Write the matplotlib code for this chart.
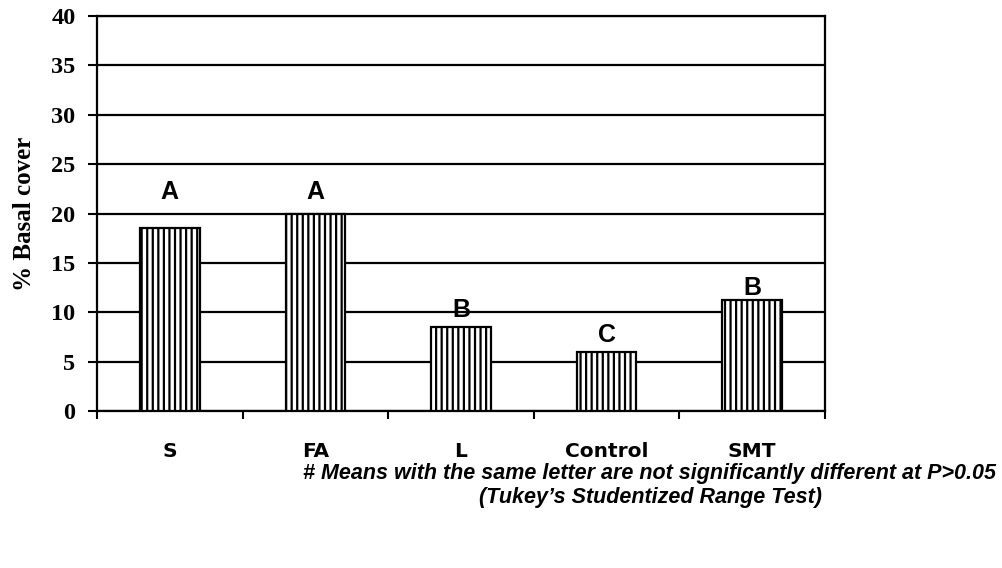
import matplotlib
matplotlib.use("Agg")
import matplotlib.pyplot as plt

# data
treatments = ["S", "FA", "L", "Control", "SMT"]
basal_cover = [18.5, 20.0, 8.5, 6.0, 11.2]
letters = ["A", "A", "B", "C", "B"]
letter_y = [22.2, 22.2, 10.2, 7.7, 12.5]
y_ticks = [0, 5, 10, 15, 20, 25, 30, 35, 40]

plt.rcParams["hatch.linewidth"] = 1.6
plt.rcParams["hatch.color"] = "black"

fig = plt.figure(figsize=(10.03, 5.68), dpi=100)
ax = fig.add_axes([0.0967, 0.2764, 0.7258, 0.6954])

x = list(range(len(treatments)))
ax.bar(x, basal_cover, width=0.41, color="white", edgecolor="black",
       linewidth=1.6, hatch="|||", zorder=3)

for xi, lab, yy in zip(x, letters, letter_y):
    ax.text(xi, yy, lab, ha="center", va="center", fontsize=18,
            fontweight="bold", family="Liberation Sans", zorder=4)

ax.set_xlim(-0.5, len(treatments) - 0.5)
ax.set_ylim(0, 40)
ax.set_yticks(y_ticks)
ax.set_yticklabels([str(v) for v in y_ticks], fontsize=17.5, fontweight="bold",
                   family="Liberation Serif")
ax.yaxis.grid(True, color="black", linewidth=1.6)
ax.set_axisbelow(True)

# category boundary ticks, labels at centers
ax.set_xticks([i - 0.5 for i in range(len(treatments) + 1)])
ax.set_xticklabels([])
ax.set_xticks(x, minor=True)
ax.set_xticklabels(treatments, minor=True, fontsize=14.5, fontweight="bold",
                   family="DejaVu Sans")
ax.tick_params(axis="x", which="major", direction="out", length=6, width=1.5)
ax.tick_params(axis="x", which="minor", length=0, pad=22)
ax.tick_params(axis="y", direction="out", length=6.5, width=1.5, pad=9)

for sp in ax.spines.values():
    sp.set_linewidth(1.6)
    sp.set_color("black")

ax.set_ylabel("% Basal cover", fontsize=18, fontweight="bold",
              family="Liberation Serif", labelpad=11)

fig.text(0.648, 0.167, "# Means with the same letter are not significantly different at P>0.05",
         ha="center", va="center", fontsize=15.5, fontweight="bold", style="italic",
         family="Liberation Sans")
fig.text(0.648, 0.124, "(Tukey\u2019s Studentized Range Test)",
         ha="center", va="center", fontsize=15.5, fontweight="bold", style="italic",
         family="Liberation Sans")

fig.savefig("out.png", dpi=100)
